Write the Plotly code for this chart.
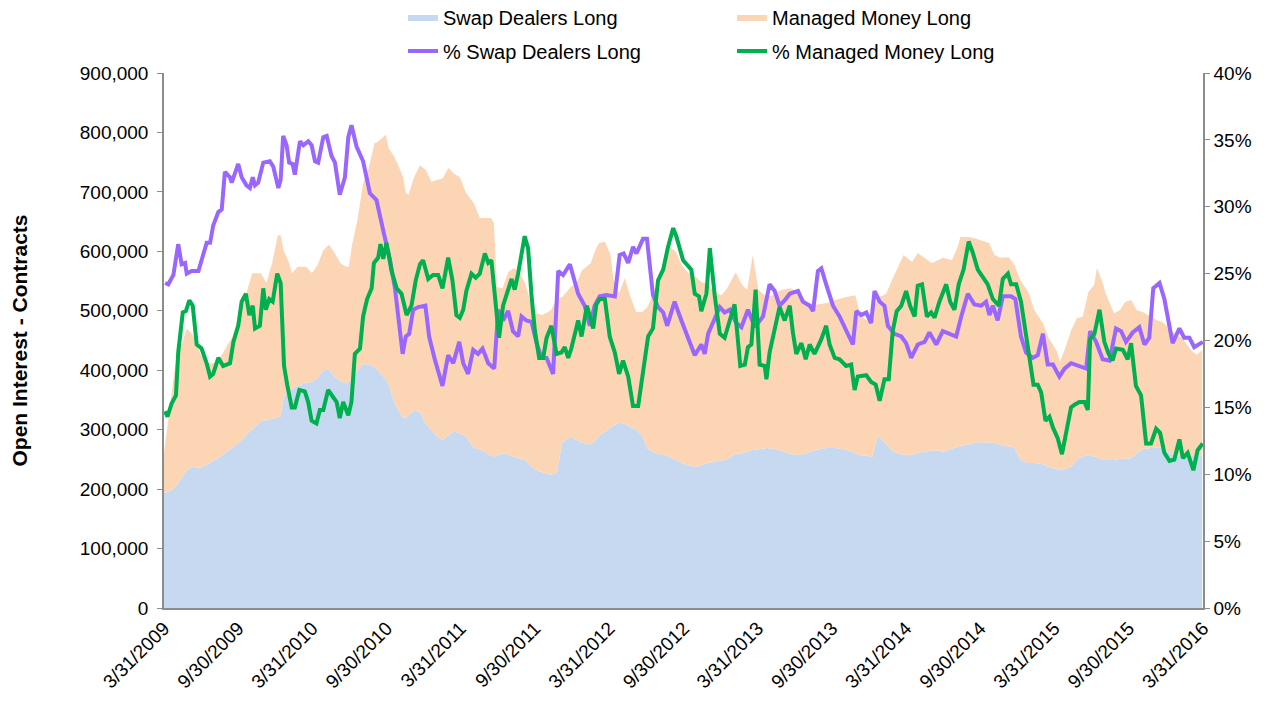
import numpy as np
import pandas as pd
import plotly.graph_objects as go

START = pd.Timestamp("2009-03-31")

# ---- stacked open interest (weeks since 3/31/2009, contracts in thousands) ----
area_weeks = [0, 2, 4, 6, 8, 10, 13, 16, 19, 22, 24, 27, 29, 31, 34, 36, 38, 40, 41, 42, 44, 45, 47, 50,
              52, 54, 56, 58, 60, 62, 64, 65, 66, 68, 69, 70, 72, 74, 75, 78, 79, 81, 84, 85, 86, 88, 90,
              92, 94, 96, 98, 100, 102, 104, 106, 109, 111, 115, 116, 117, 119, 121, 123, 125, 127, 129,
              131, 133, 136, 138, 140, 143, 145, 147, 150, 152, 153, 155, 157, 158, 160, 162, 164, 166,
              168, 170, 173, 175, 177, 178, 180, 182, 184, 187, 189, 191, 194, 196, 198, 201, 203, 205,
              207, 209, 212, 214, 217, 220, 223, 226, 229, 233, 236, 240, 243, 245, 247, 249, 251, 253,
              254, 256, 258, 260, 263, 265, 267, 270, 272, 274, 277, 279, 280, 283, 285, 287, 290, 292,
              294, 297, 299, 301, 304, 306, 309, 311, 314, 315, 317, 319, 321, 323, 325, 327, 328, 330,
              331, 334, 336, 338, 340, 342, 344, 347, 349, 351, 354, 356, 358, 361, 363, 365]
swap_long_k = [193, 197, 203, 217, 232, 237, 236, 244, 252, 263, 269, 281, 292, 300, 314, 316, 318, 320, 322,
               354, 365, 368, 374, 379, 380, 387, 400, 401, 389, 381, 378, 380, 385, 400, 405, 410, 410, 405,
               401, 384, 375, 345, 320, 320, 325, 332, 330, 310, 299, 288, 283, 291, 297, 294, 289, 269, 267,
               256, 255, 257, 260, 258, 254, 252, 249, 238, 232, 228, 224, 227, 278, 288, 283, 278, 275, 283,
               290, 296, 304, 307, 312, 310, 304, 300, 290, 268, 260, 258, 256, 253, 249, 244, 240, 237, 240,
               244, 246, 248, 250, 260, 260, 263, 266, 267, 269, 268, 265, 259, 258, 260, 266, 269, 269, 266,
               260, 257, 256, 254, 290, 280, 274, 265, 260, 258, 258, 261, 263, 265, 265, 263, 268, 271, 273,
               275, 278, 279, 279, 278, 274, 272, 270, 250, 244, 244, 242, 237, 233, 232, 234, 238, 250, 255,
               257, 255, 254, 249, 249, 249, 251, 252, 252, 260, 267, 269, 270, 270, 259, 256, 254, 257, 257,
               257]
managed_money_long_k = [67, 143, 207, 223, 238, 223, 189, 166, 163, 177, 187, 220, 238, 263, 249, 231, 262,
                        307, 305, 248, 215, 195, 200, 195, 183, 190, 202, 210, 208, 199, 196, 194, 223, 253,
                        276, 304, 330, 377, 383, 412, 398, 414, 406, 378, 370, 394, 415, 427, 418, 432, 440,
                        449, 433, 431, 411, 411, 389, 400, 392, 283, 278, 307, 318, 313, 297, 275, 264, 265,
                        277, 291, 245, 252, 263, 290, 305, 323, 324, 320, 290, 245, 218, 245, 219, 198, 208,
                        238, 280, 316, 343, 354, 350, 333, 325, 320, 308, 302, 284, 278, 288, 305, 285, 272,
                        328, 268, 254, 258, 270, 279, 274, 255, 244, 244, 249, 257, 266, 233, 228, 247, 233,
                        246, 256, 287, 314, 336, 324, 336, 327, 315, 320, 326, 317, 336, 351, 349, 344, 340,
                        335, 316, 315, 318, 307, 302, 286, 257, 237, 217, 198, 182, 205, 230, 238, 235, 275,
                        288, 318, 298, 281, 247, 250, 263, 266, 241, 231, 221, 214, 211, 209, 203, 200, 177,
                        169, 177]

# ---- % of open interest (weeks since 3/31/2009, percent) ----
swap_pct_weeks = [0.4, 1.5, 3.3, 5.0, 6.2, 7.4, 8.0, 9.7, 12.1, 13.8, 15.0, 16.2, 17.3, 19.1, 20.3, 21.4, 23.2,
                  23.8, 26.1, 27.3, 29.0, 30.2, 31.2, 32.0, 33.1, 34.9, 37.2, 38.4, 40.2, 41.0, 41.9, 43.1,
                  44.0, 45.2, 46.0, 47.8, 49.0, 50.7, 51.9, 53.1, 54.2, 56.0, 57.2, 58.9, 60.1, 61.8, 63.6,
                  64.8, 65.9, 67.7, 70.0, 72.4, 74.7, 77.1, 79.4, 81.2, 82.3, 83.9, 85.0, 86.2, 87.6, 89.4,
                  91.9, 93.2, 95.2, 97.9, 99.9, 101.7, 103.8, 105.2, 106.9, 108.7, 110.4, 112.0, 114.0,
                  116.1, 117.5, 119.2, 121.0, 122.7, 124.5, 125.7, 127.4, 129.2, 131.0, 132.7, 134.5, 136.8,
                  138.6, 140.3, 142.7, 145.6, 147.9, 149.7, 151.4, 153.2, 155.5, 158.5, 160.2, 161.6, 163.2,
                  164.9, 166.1, 168.4, 169.8, 171.9, 173.7, 175.5, 176.9, 179.5, 181.9, 184.2, 186.6, 188.9,
                  190.1, 191.3, 193.0, 195.4, 197.1, 198.9, 201.2, 203.0, 205.3, 207.7, 210.6, 212.9, 214.7,
                  216.4, 218.2, 220.0, 222.9, 224.6, 227.0, 228.2, 229.9, 231.1, 232.8, 235.2, 237.5, 239.3,
                  241.0, 242.2, 243.4, 245.1, 246.9, 248.6, 249.8, 251.6, 253.3, 254.5, 256.8, 259.2, 260.9,
                  262.7, 265.0, 267.4, 269.1, 271.5, 273.8, 276.2, 278.5, 280.3, 282.6, 284.9, 287.3, 289.0,
                  290.2, 291.4, 293.1, 294.9, 297.8, 299.3, 301.3, 303.1, 305.4, 307.2, 309.0, 310.7, 312.5,
                  314.8, 316.6, 318.9, 321.2, 324.2, 325.6, 327.7, 330.0, 332.4, 334.7, 336.5, 338.2, 340.6,
                  342.9, 344.7, 346.4, 347.8, 350.0, 351.7, 354.6, 357.0, 358.7, 360.5, 362.2, 365.2]
swap_pct = [24.3, 24.2, 24.9, 27.2, 25.7, 25.8, 25.0, 25.2, 25.2, 26.5, 27.3, 27.3, 28.6, 29.6, 29.8, 32.6, 32.2,
            31.8, 33.2, 32.2, 31.6, 31.4, 32.2, 31.6, 31.8, 33.3, 33.4, 33.0, 31.4, 32.0, 35.3, 34.6, 33.3,
            33.2, 32.4, 34.9, 34.6, 34.9, 34.6, 33.4, 33.3, 35.2, 35.3, 33.8, 33.3, 30.9, 32.2, 35.2, 36.1,
            34.5, 33.4, 31.0, 30.5, 28.2, 26.1, 23.9, 21.8, 19.0, 20.3, 20.5, 22.3, 22.5, 22.6, 20.3, 18.6,
            16.6, 18.9, 18.3, 19.9, 18.3, 17.5, 19.3, 19.0, 19.4, 18.3, 17.9, 22.3, 21.5, 22.2, 20.7, 20.3,
            21.8, 21.5, 21.4, 19.8, 18.7, 18.7, 17.5, 25.2, 24.9, 25.7, 23.5, 22.6, 21.1, 22.6, 23.3, 23.4,
            23.3, 26.4, 26.5, 25.8, 27.0, 26.5, 27.6, 27.6, 23.4, 22.5, 22.1, 21.1, 22.9, 21.5, 20.3, 18.9,
            19.7, 19.0, 20.5, 21.3, 22.5, 22.1, 22.3, 21.3, 21.0, 22.3, 21.0, 21.8, 24.2, 23.7, 22.6, 23.0,
            23.5, 23.7, 22.9, 22.6, 22.2, 25.2, 25.4, 24.2, 22.6, 21.8, 21.0, 20.2, 19.7, 22.2, 21.9, 22.1,
            21.3, 23.7, 22.9, 22.6, 21.1, 20.5, 20.3, 19.8, 18.7, 19.7, 19.9, 20.6, 19.7, 20.7, 20.5, 20.3,
            21.8, 23.5, 22.7, 22.6, 22.9, 21.9, 22.6, 21.5, 23.3, 23.3, 23.1, 20.3, 19.1, 18.7, 18.9, 20.5,
            18.2, 18.2, 17.3, 17.9, 18.3, 18.1, 17.9, 20.7, 19.9, 18.6, 18.5, 20.9, 20.7, 19.9, 20.6, 21.0,
            19.7, 20.2, 23.9, 24.3, 23.1, 19.8, 20.9, 20.2, 20.2, 19.5, 19.9]

mm_pct_weeks = [0.4, 1.2, 2.7, 4.2, 5.0, 6.6, 7.7, 8.9, 10.1, 11.5, 13.2, 15.0, 16.2, 17.3, 19.1, 20.8, 23.2,
                24.4, 26.1, 27.3, 28.8, 30.0, 31.2, 32.0, 33.7, 34.9, 35.8, 37.0, 38.2, 39.8, 41.0, 42.2, 43.3,
                44.9, 46.0, 47.6, 49.5, 50.7, 51.9, 53.6, 54.8, 56.0, 57.7, 59.5, 60.7, 61.8, 63.0, 64.8,
                65.9, 67.1, 68.9, 70.0, 71.4, 73.0, 73.8, 75.3, 76.1, 77.1, 78.2, 80.0, 81.8, 83.5, 85.3,
                87.0, 88.5, 90.0, 91.1, 92.9, 94.6, 96.4, 97.9, 99.9, 101.4, 102.8, 104.0, 105.2, 106.3,
                108.1, 109.6, 111.0, 112.8, 114.0, 115.1, 116.3, 117.8, 119.2, 121.0, 122.2, 123.3, 124.5,
                126.8, 128.0, 129.2, 130.4, 131.9, 133.3, 134.5, 136.2, 138.0, 139.7, 140.9, 142.1, 143.2,
                144.4, 145.6, 146.8, 148.7, 150.9, 152.0, 153.2, 155.0, 156.7, 158.5, 160.0, 161.4, 163.2,
                164.9, 166.7, 168.4, 170.2, 171.9, 173.7, 175.5, 177.2, 179.0, 180.1, 182.5, 185.4, 186.6,
                188.1, 188.9, 190.7, 191.9, 193.6, 195.4, 197.1, 198.9, 200.6, 202.6, 204.2, 205.3, 206.5,
                208.0, 209.4, 211.2, 211.8, 212.9, 214.7, 216.4, 218.2, 220.0, 221.1, 222.3, 224.1, 225.6,
                227.0, 228.7, 231.1, 232.8, 234.0, 235.8, 237.5, 239.8, 241.6, 242.8, 243.9, 246.9, 248.6,
                250.2, 251.6, 253.3, 254.8, 256.2, 257.6, 259.2, 260.9, 262.3, 263.9, 265.0, 266.5, 268.2,
                269.7, 270.9, 272.6, 275.0, 276.4, 277.9, 279.4, 281.1, 282.9, 284.3, 286.1, 287.9, 289.6,
                291.4, 293.5, 294.9, 296.7, 297.8, 299.6, 301.3, 303.1, 304.3, 305.7, 307.2, 308.4, 309.9,
                311.3, 312.5, 314.2, 315.7, 317.2, 318.9, 320.1, 321.8, 323.6, 324.8, 325.6, 327.1, 328.9,
                330.6, 332.1, 333.5, 334.7, 337.1, 338.8, 340.0, 341.7, 343.5, 345.3, 347.0, 348.8, 350.2,
                351.7, 353.5, 355.2, 357.0, 358.2, 359.9, 361.9, 363.4, 365.2]
mm_pct = [14.7, 14.3, 15.3, 15.9, 19.1, 22.1, 22.2, 23.0, 22.6, 19.7, 19.4, 18.3, 17.3, 17.5, 18.7, 18.1, 18.3,
          19.9, 21.1, 22.9, 23.5, 21.9, 22.6, 20.9, 21.1, 23.9, 22.3, 23.1, 22.9, 25.0, 24.3, 18.1, 16.7, 15.0,
          15.0, 16.3, 16.2, 15.4, 14.0, 13.8, 14.8, 14.8, 16.3, 15.7, 15.4, 14.2, 15.4, 14.4, 15.4, 19.0, 19.4,
          21.8, 23.1, 23.9, 25.8, 26.2, 27.2, 26.1, 27.3, 25.2, 23.9, 23.5, 21.9, 22.6, 24.5, 25.7, 26.0, 24.6,
          24.9, 24.9, 23.9, 26.2, 24.5, 21.9, 21.7, 22.3, 23.7, 25.0, 24.7, 25.0, 26.5, 25.8, 26.0, 23.4, 20.2,
          22.6, 23.9, 24.6, 23.8, 25.0, 27.8, 26.9, 23.4, 20.7, 18.7, 18.7, 20.2, 21.1, 19.0, 19.1, 19.5, 18.7,
          19.4, 20.5, 21.5, 20.3, 22.6, 20.9, 22.7, 23.1, 23.1, 20.3, 19.1, 17.5, 18.5, 17.3, 15.1, 15.1, 17.5,
          20.3, 20.9, 24.5, 25.3, 27.0, 28.4, 27.8, 26.0, 25.3, 23.5, 23.3, 22.2, 23.5, 26.9, 23.4, 20.5, 20.2,
          21.5, 22.7, 18.1, 18.2, 19.5, 19.7, 23.8, 18.2, 18.1, 17.1, 19.1, 20.7, 22.5, 21.5, 22.6, 20.6, 19.0,
          19.8, 18.6, 19.7, 19.0, 20.1, 21.1, 19.7, 18.7, 18.6, 18.1, 18.2, 16.3, 17.3, 17.4, 16.9, 16.7, 15.5,
          17.1, 17.1, 20.7, 22.2, 22.6, 23.7, 22.6, 21.8, 24.1, 24.2, 21.8, 22.1, 21.7, 22.9, 24.2, 22.9, 22.3,
          24.2, 25.3, 27.4, 26.6, 25.3, 24.7, 24.2, 23.1, 22.6, 24.6, 25.0, 24.2, 24.2, 22.9, 20.2, 18.6, 16.7,
          16.7, 16.1, 14.0, 14.3, 13.5, 12.7, 11.5, 13.2, 15.0, 15.2, 15.4, 15.4, 14.8, 20.1, 20.5, 22.3, 19.9,
          19.0, 18.5, 19.4, 19.3, 18.6, 19.8, 16.6, 15.9, 12.3, 12.3, 13.4, 13.1, 11.6, 11.0, 11.1, 12.6, 11.2,
          11.6, 10.3, 11.8, 12.3]

tick_dates = ["2009-03-31", "2009-09-30", "2010-03-31", "2010-09-30", "2011-03-31", "2011-09-30",
              "2012-03-31", "2012-09-30", "2013-03-31", "2013-09-30", "2014-03-31", "2014-09-30",
              "2015-03-31", "2015-09-30", "2016-03-31"]
tick_labels = ["3/31/2009", "9/30/2009", "3/31/2010", "9/30/2010", "3/31/2011", "9/30/2011",
               "3/31/2012", "9/30/2012", "3/31/2013", "9/30/2013", "3/31/2014", "9/30/2014",
               "3/31/2015", "9/30/2015", "3/31/2016"]


def to_dates(weeks):
    return START + pd.to_timedelta(np.asarray(weeks, dtype=float) * 7, unit="D")


swap_long = [v * 1000 for v in swap_long_k]
managed_money_long = [v * 1000 for v in managed_money_long_k]

FONT = "Liberation Sans, Arial, sans-serif"
AXIS_GREY = "#8c8c8c"
W, H = 1274, 700  # page body keeps an 8px margin

fig = go.Figure()
fig.add_trace(go.Scatter(
    x=to_dates(area_weeks), y=swap_long, name="Swap Dealers Long",
    stackgroup="oi", mode="lines", line=dict(width=0, color="#c6d9f1"),
    fillcolor="#c6d9f1", legend="legend"))
fig.add_trace(go.Scatter(
    x=to_dates(area_weeks), y=managed_money_long, name="Managed Money Long",
    stackgroup="oi", mode="lines", line=dict(width=0, color="#fcd5b4"),
    fillcolor="#fcd5b4", legend="legend"))
fig.add_trace(go.Scatter(
    x=to_dates(swap_pct_weeks), y=swap_pct, name="% Swap Dealers Long", yaxis="y2",
    mode="lines", line=dict(color="#9966ff", width=4), legend="legend2"))
fig.add_trace(go.Scatter(
    x=to_dates(mm_pct_weeks), y=mm_pct, name="% Managed Money Long", yaxis="y2",
    mode="lines", line=dict(color="#00b050", width=4), legend="legend2"))

legend_common = dict(orientation="h", xref="container", yref="container", x=395 / W,
                     xanchor="left", yanchor="middle", entrywidth=284, entrywidthmode="pixels",
                     font=dict(size=20), traceorder="normal", bgcolor="rgba(0,0,0,0)")

fig.update_layout(
    width=W, height=H,
    margin=dict(l=156, r=79, t=65, b=100, autoexpand=False),
    paper_bgcolor="white", plot_bgcolor="white",
    font=dict(family=FONT, size=19, color="black"),
    xaxis=dict(
        type="date", range=[START, pd.Timestamp("2016-03-31")],
        tickvals=tick_dates, ticktext=tick_labels, tickangle=-45,
        showgrid=False, zeroline=False, showline=True, linecolor=AXIS_GREY, linewidth=1.5,
        ticks="", tickfont=dict(size=19), automargin=False),
    yaxis=dict(
        range=[0, 900000], dtick=100000, tickformat=",", showgrid=False, zeroline=False,
        showline=True, linecolor=AXIS_GREY, linewidth=1.5, ticks="outside", ticklen=5,
        tickcolor=AXIS_GREY, tickfont=dict(size=19), automargin=False, ticklabelstandoff=5,
        title=dict(text="<b>Open Interest - Contracts</b>", font=dict(size=21), standoff=52)),
    yaxis2=dict(
        range=[0, 40], dtick=5, ticksuffix="%", overlaying="y", side="right",
        showgrid=False, zeroline=False, showline=True, linecolor=AXIS_GREY, linewidth=1.5,
        ticks="outside", ticklen=5, tickcolor=AXIS_GREY, tickfont=dict(size=19), automargin=False),
    legend=dict(legend_common, y=1 - 9 / H),
    legend2=dict(legend_common, y=1 - 43 / H),
    showlegend=True,
)

fig.write_html("out.html")
